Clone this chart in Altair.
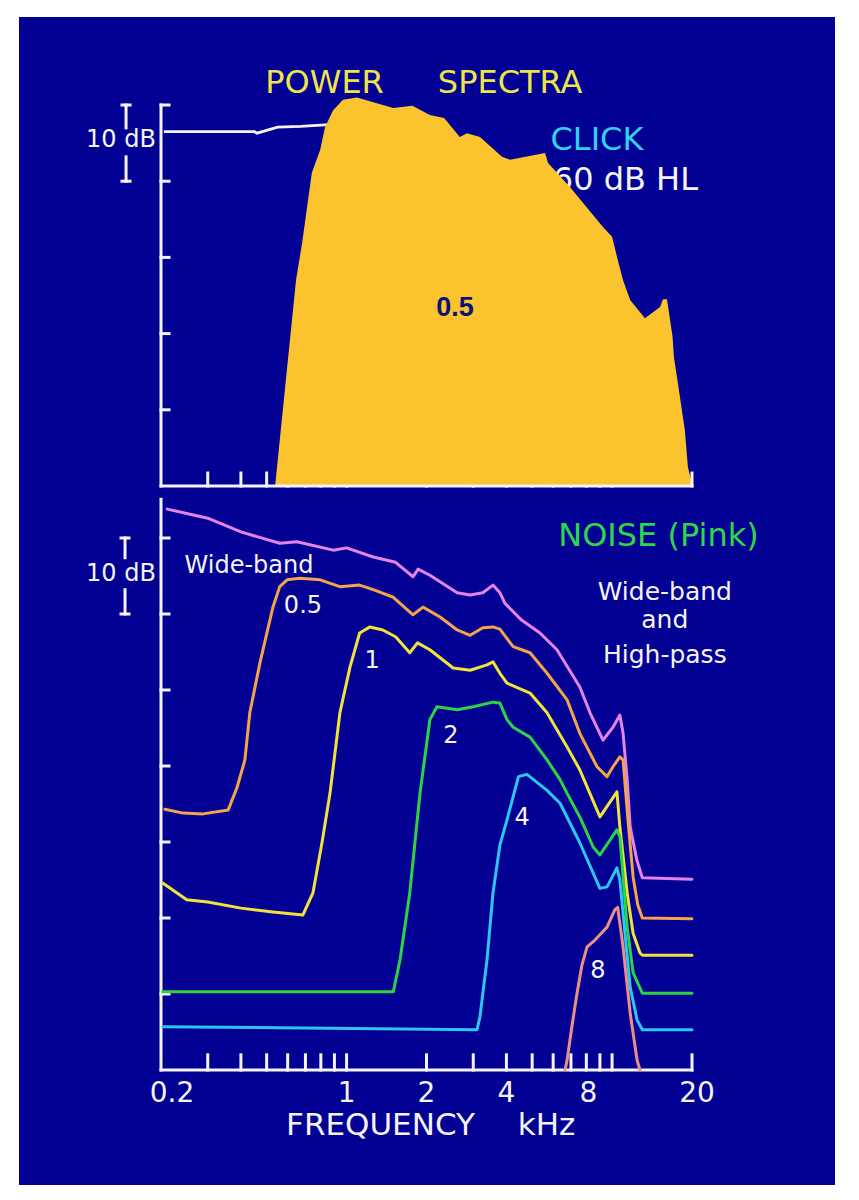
import altair as alt
import pandas as pd

# ---------------- colours ----------------
BLUE = "#030094"
WHITE = "#F4F4F4"
PATCH_COLOR = "#FBC32E"

# ---------------- scales (kHz, dB) ----------------
X_DOMAIN = [0.05837, 69.13]
TOP_Y_DOMAIN = [-0.92, 61.55]
BOT_Y_DOMAIN = [-15.13, 75.92]

# ---------------- top panel: click spectrum ----------------
CLICK_F = [0.205, 0.45, 0.46, 0.55, 0.67, 0.83, 0.98]
CLICK_DB = [46.5, 46.5, 46.3, 47.1, 47.2, 47.4, 47.5]

PATCH_F = [0.538, 0.645, 0.68, 0.74, 0.795, 0.83, 0.89, 0.969, 1.094, 1.5, 1.77,
           2.06, 2.33, 2.67, 2.84, 3.18, 3.85, 4.13, 5.59, 5.74, 6.95, 9.24, 10.0,
           10.5, 11.0, 11.7, 13.3, 15.16, 15.55, 16.1, 16.9, 17.1, 17.7, 18.8, 19.3, 20.1]
PATCH_DB = [0, 27.0, 31.9, 41.1, 44.1, 47.1, 49.3, 50.7, 51.0, 49.6, 49.9,
            48.7, 48.3, 45.8, 46.3, 45.8, 43.2, 42.8, 43.7, 42.4, 39.2, 34.0, 32.7,
            29.7, 27.0, 24.4, 22.0, 23.5, 24.5, 24.5, 19.6, 16.9, 13.5, 7.3, 2.5, 0]

TOP_Y_TICKS = [10, 20, 30, 40, 50]
X_TICKS = [0.3, 0.4, 0.5, 0.6, 0.7, 0.8, 0.9, 1, 2, 3, 4, 5, 6, 7, 8, 9, 10]
X_END_TICK = [20]

# ---------------- bottom panel: pink noise ----------------
NOISE_NAMES = ["Wide-band", "0.5", "1", "2", "4", "8"]
NOISE_COLORS = ["#E583E8", "#F4A449", "#F2E23C", "#2CD443", "#2BC7F2", "#EE8E88"]

WB_F = [0.211, 0.30, 0.40, 0.56, 0.65, 0.89, 1.0, 1.26, 1.53, 1.78, 1.86, 2.06, 2.61,
        2.92, 3.26, 3.56, 3.78, 3.95, 4.56, 5.35, 6.2, 7.56, 8.26, 9.24, 10.08, 10.7,
        11.0, 11.4, 11.7, 12.4, 13.0, 20.0]
WB_DB = [73.8, 72.6, 70.8, 69.3, 69.5, 68.4, 68.7, 67.5, 66.8, 64.9, 65.9, 65.1, 62.8,
         62.5, 62.8, 63.8, 62.8, 61.4, 59.2, 57.5, 55.3, 50.4, 47.0, 43.4, 45.1, 46.7,
         44.3, 38.2, 32.0, 27.6, 25.3, 25.1]

HP05_F = [0.207, 0.242, 0.288, 0.358, 0.387, 0.414, 0.432, 0.472, 0.528, 0.56, 0.597,
          0.667, 0.795, 0.944, 1.12, 1.26, 1.5, 1.78, 1.94, 2.25, 2.61, 2.92, 3.26,
          3.56, 3.78, 4.24, 4.91, 5.69, 6.77, 7.56, 8.78, 9.57, 10.08, 10.7, 11.0,
          11.48, 12.0, 12.5, 13.0, 20.0]
HP05_DB = [34.3, 33.8, 33.7, 34.2, 37.2, 40.8, 47.0, 53.6, 60.9, 63.6, 64.5,
           64.7, 64.5, 63.6, 63.8, 63.2, 62.2, 59.9, 60.9, 59.6, 57.9, 57.2, 58.2,
           58.3, 58.0, 55.7, 54.9, 52.2, 48.7, 44.3, 39.9, 38.6, 39.9, 41.2, 40.8,
           32.9, 25.4, 21.7, 20.0, 19.9]

HP1_F = [0.203, 0.25, 0.30, 0.40, 0.528, 0.685, 0.747, 0.808, 0.866, 0.944, 1.03, 1.12,
         1.225, 1.37, 1.53, 1.73, 1.85, 2.06, 2.52, 2.92, 3.38, 3.56, 3.78, 4.02, 4.91,
         5.69, 6.77, 7.56, 9.0, 10.43, 10.7, 11.4, 12.0, 12.74, 13.0, 20.0]
HP1_DB = [24.6, 22.4, 22.1, 21.3, 20.8, 20.4, 23.3, 29.9, 36.4, 47.0, 53.0, 57.5,
          58.3, 57.9, 57.0, 54.9, 56.2, 55.3, 52.9, 52.6, 53.3, 53.7, 52.2, 50.9, 49.6,
          47.0, 42.5, 39.5, 33.3, 36.6, 32.0, 23.3, 18.0, 15.4, 15.1, 15.1]

HP2_F = [0.203, 1.5, 1.59, 1.73, 1.89, 2.06, 2.19, 2.61, 3.0, 3.56, 3.78, 4.02, 4.24,
         4.91, 5.69, 6.37, 6.77, 7.56, 8.5, 9.0, 10.43, 10.7, 11.4, 12.0, 13.0, 20.0]
HP2_DB = [10.3, 10.3, 14.5, 23.3, 36.4, 46.1, 47.8, 47.4, 47.8, 48.4, 48.3, 46.1, 45.1,
          43.8, 40.8, 38.2, 36.4, 33.3, 29.3, 28.3, 31.6, 30.7, 18.8, 12.8, 10.1, 10.1]

HP4_F = [0.203, 3.1, 3.18, 3.38, 3.56, 3.78, 4.02, 4.44, 4.78, 5.69, 6.37, 7.56, 9.0,
         9.57, 10.43, 10.7, 11.7, 12.42, 13.0, 20.0]
HP4_DB = [5.7, 5.3, 7.0, 14.5, 23.3, 29.6, 32.9, 38.6, 38.9, 36.8, 35.1, 29.9, 23.9,
          24.1, 26.6, 25.0, 10.9, 6.6, 5.3, 5.3]

HP8_F = [6.65, 6.77, 7.07, 7.38, 7.7, 8.05, 8.62, 9.0, 9.57, 10.25, 10.5, 11.0, 11.7,
         12.42, 12.74]
HP8_DB = [0.0, 1.3, 5.9, 10.1, 13.8, 16.2, 17.1, 17.8, 18.8, 21.1, 21.4, 16.2, 7.5,
          1.3, 0.0]

BOT_Y_TICKS = [10, 20, 30, 40, 50, 60, 70]

# ---------------- helpers ----------------
XS = alt.Scale(type="log", domain=X_DOMAIN, nice=False)
X = alt.X("f:Q", scale=XS, axis=None)
Y_TOP = alt.Y("db:Q", scale=alt.Scale(domain=TOP_Y_DOMAIN, nice=False, zero=False), axis=None)
Y_BOT = alt.Y("db:Q", scale=alt.Scale(domain=BOT_Y_DOMAIN, nice=False, zero=False), axis=None)
FONT = "DejaVu Sans"


def rules(rows, y_enc, color=WHITE, width=3):
    df = pd.DataFrame(rows, columns=["f", "f2", "db", "db2"])
    return alt.Chart(df).mark_rule(color=color, strokeWidth=width, strokeCap="square").encode(
        x=X, x2=alt.X2("f2"), y=y_enc, y2=alt.Y2("db2"))


def text(rows, y_enc, size, color=WHITE, align="center", font=FONT, weight="normal", dx=0):
    df = pd.DataFrame(rows, columns=["f", "db", "text"])
    return alt.Chart(df).mark_text(fontSize=size, color=color, align=align, baseline="alphabetic",
                                   font=font, fontWeight=weight, dx=dx).encode(
        x=X, y=y_enc, text="text:N")


Y_TICK_END = 0.2144
# ---------------- top panel ----------------
top_axes = rules(
    [(0.2, 0.2, 0, 50)]
    + [(0.2, Y_TICK_END, t, t) for t in TOP_Y_TICKS]
    + [(t, t, 0, 1.7) for t in X_TICKS],
    Y_TOP)
top_bar = rules([(0.1477, 0.1477, 50, 47.0), (0.1477, 0.1477, 43.2, 40),
                 (0.1426, 0.1529, 50, 50), (0.1426, 0.1529, 40, 40)], Y_TOP, width=3)
top_bar_text = text([(0.1414, 44.5, "10 dB")], Y_TOP, 24)

click_df = pd.DataFrame({"f": CLICK_F, "db": CLICK_DB})
click_line = alt.Chart(click_df).mark_line(color=WHITE, strokeWidth=2.8).encode(x=X, y=Y_TOP)

top_titles = alt.layer(
    text([(0.826, 51.6, "POWER"), (4.13, 51.6, "SPECTRA")], Y_TOP, 32, color="#EDE64B"),
    text([(8.77, 44.1, "CLICK")], Y_TOP, 32, color="#2FD2F2"),
    text([(21.07, 38.8, "60 dB HL")], Y_TOP, 32, align="right"),
)

patch_df = pd.DataFrame({"f": PATCH_F, "db": PATCH_DB})
patch = alt.Chart(patch_df).mark_area(color=PATCH_COLOR, opacity=1, interpolate="linear").encode(
    x=X, y=Y_TOP, y2=alt.datum(0))
patch_label = text([(2.56, 22.3, "0.5")], Y_TOP, 27, color="#0B1275",
                   font="Liberation Sans", weight="bold")
top_over = rules([(0.2, 20, 0, 0)] + [(t, t, 0, 1.7) for t in X_END_TICK], Y_TOP)

top = alt.layer(top_axes, top_bar, top_bar_text, click_line, top_titles, patch,
                patch_label, top_over).properties(width=816, height=476)

# ---------------- bottom panel ----------------
rows = []
for name, fs, dbs in [("Wide-band", WB_F, WB_DB), ("0.5", HP05_F, HP05_DB), ("1", HP1_F, HP1_DB),
                      ("2", HP2_F, HP2_DB), ("4", HP4_F, HP4_DB), ("8", HP8_F, HP8_DB)]:
    for i, (f, d) in enumerate(zip(fs, dbs)):
        rows.append({"series": name, "i": i, "f": f, "db": d})
noise_df = pd.DataFrame(rows)

bot_axes = rules(
    [(0.2, 0.2, 0, 75.1), (0.2, 20, 0, 0)]
    + [(0.2, Y_TICK_END, t, t) for t in BOT_Y_TICKS]
    + [(t, t, 0, 2.0) for t in X_TICKS + X_END_TICK],
    Y_BOT)
bot_bar = rules([(0.1464, 0.1464, 70, 67.4), (0.1464, 0.1464, 63.2, 60),
                 (0.1414, 0.1515, 70, 70), (0.1414, 0.1515, 60, 60)], Y_BOT, width=3)
bot_bar_text = text([(0.1414, 64.3, "10 dB")], Y_BOT, 24)

noise_lines = alt.Chart(noise_df).mark_line(strokeWidth=3, strokeJoin="round",
                                            strokeCap="round").encode(
    x=X, y=Y_BOT,
    color=alt.Color("series:N", scale=alt.Scale(domain=NOISE_NAMES, range=NOISE_COLORS),
                    legend=None),
    order="i:Q")

bot_labels = alt.layer(
    text([(0.429, 65.4, "Wide-band"), (0.685, 60.1, "0.5"), (1.247, 52.9, "1"),
          (2.47, 43.0, "2"), (4.58, 32.2, "4"), (8.85, 12.1, "8")], Y_BOT, 24),
    text([(14.96, 68.9, "NOISE (Pink)")], Y_BOT, 32, color="#2CD84A"),
    text([(15.8, 61.8, "Wide-band"), (15.8, 58.2, "and"), (15.8, 53.6, "High-pass")],
         Y_BOT, 25),
    text([(0.2, -4.2, "0.2")], Y_BOT, 28, dx=11),
    text([(1, -4.2, "1"), (2, -4.2, "2"), (4, -4.2, "4")], Y_BOT, 28),
    text([(8, -4.2, "8")], Y_BOT, 28, dx=2),
    text([(20, -4.2, "20")], Y_BOT, 28, dx=5),
    text([(1.342, -8.55, "FREQUENCY"), (5.66, -8.55, "kHz")], Y_BOT, 31),
)

bottom = alt.layer(bot_axes, bot_bar, bot_bar_text, noise_lines, bot_labels).properties(
    width=816, height=692)

chart = alt.vconcat(top, bottom, spacing=0).properties(
    padding={"left": 19, "top": 17, "right": 24, "bottom": 15},
    background="white",
).configure_view(fill=BLUE, stroke="transparent", strokeWidth=0)

chart.save("out.html", embed_options={"renderer": "svg", "actions": False})
